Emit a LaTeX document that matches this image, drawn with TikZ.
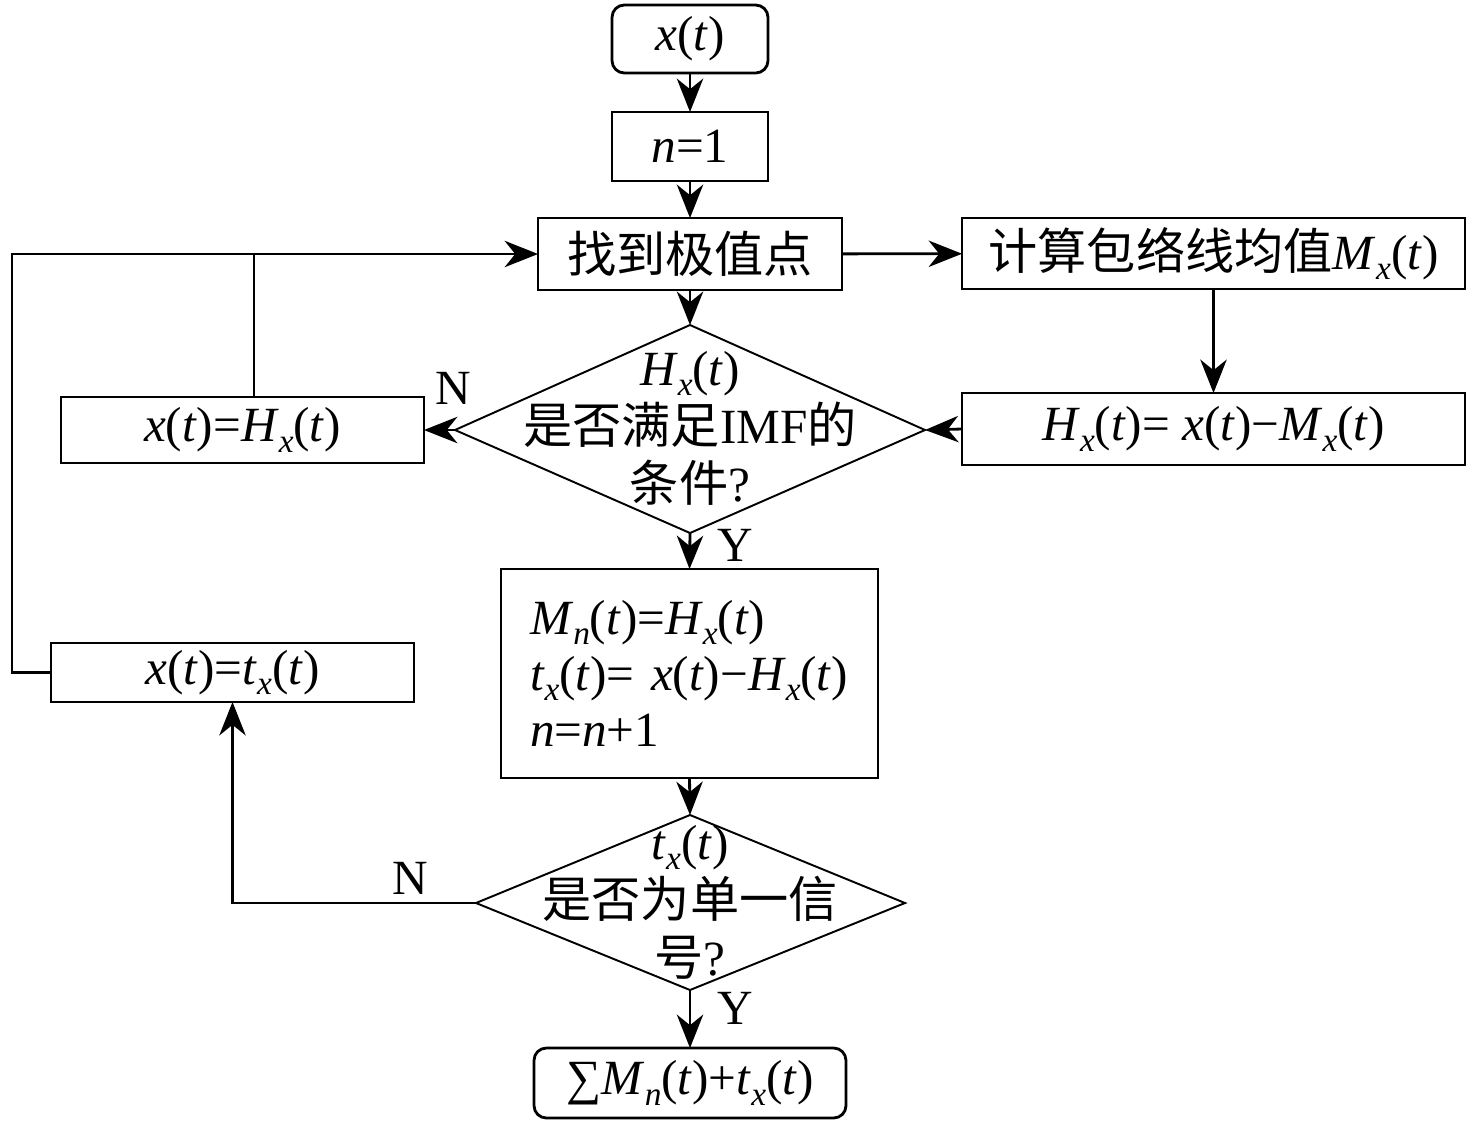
\documentclass[tikz,border=0pt]{standalone}
\usepackage{fontspec}
\setmainfont{Liberation Serif}
\newfontfamily\cjk{Noto Sans CJK SC}
\usetikzlibrary{arrows.meta}
\newcommand\vv[1]{\textit{#1}}
\newcommand\sbx[1]{\raisebox{-0.45ex}{\fontsize{19}{19}\selectfont\textit{#1}}}
\begin{document}
\begin{tikzpicture}[x=0.02cm,y=-0.02cm,
  font=\fontsize{28}{32}\selectfont,
  box/.style={draw, line width=1.6pt, inner sep=0pt, outer sep=0pt},
  rbox/.style={box, rounded corners=7pt},
  arr/.style={line width=1.6pt, -{Stealth[length=19pt,width=15pt,inset=6pt]}},
  ln/.style={line width=1.6pt},
  dia/.style={line width=1.1pt},
  lbl/.style={inner sep=0pt}]
\useasboundingbox (0,0) rectangle (1476,1126);

% nodes
\node[rbox, minimum width=3.12cm, minimum height=1.36cm] (start) at (690,39) {\vv{x}(\vv{t})};
\node[box, minimum width=3.12cm, minimum height=1.38cm] (n1) at (690,146.5) {\vv{n}=1};
\node[box, minimum width=6.08cm, minimum height=1.44cm] (find) at (690,254) {\cjk 找到极值点};
\node[box, minimum width=10.06cm, minimum height=1.42cm] (calc) at (1213.5,253.5) {{\cjk 计算包络线均值}\vv{M}\sbx{x}(\vv{t})};
\node[box, minimum width=10.06cm, minimum height=1.44cm] (hx) at (1213.5,429) {\vv{H}\sbx{x}(\vv{t})= \vv{x}(\vv{t})−\vv{M}\sbx{x}(\vv{t})};
\node[box, minimum width=7.26cm, minimum height=1.32cm] (xh) at (242.5,430) {\vv{x}(\vv{t})=\vv{H}\sbx{x}(\vv{t})};
\node[box, minimum width=7.54cm, minimum height=4.18cm, inner xsep=0.58cm, text width=6.38cm, align=left] (big) at (689.5,673.5)
  {\vv{M}\sbx{n}(\vv{t})=\vv{H}\sbx{x}(\vv{t})\\ \vv{t}\sbx{x}(\vv{t})= \vv{x}(\vv{t})−\vv{H}\sbx{x}(\vv{t})\\ \vv{n}=\vv{n}+1};
\node[box, minimum width=7.26cm, minimum height=1.18cm] (xt) at (232.5,672.5) {\vv{x}(\vv{t})=\vv{t}\sbx{x}(\vv{t})};
\node[rbox, minimum width=6.24cm, minimum height=1.40cm] (final) at (690,1083) {∑\vv{M}\sbx{n}(\vv{t})+\vv{t}\sbx{x}(\vv{t})};

% diamond 1
\coordinate (d1t) at (690,325);
\coordinate (d1b) at (690,533);
\coordinate (d1l) at (455,430);
\coordinate (d1r) at (925,430);
\draw[dia] (d1t) -- (d1r) -- (d1b) -- (d1l) -- cycle;
\node[align=center, inner sep=0pt, font=\fontsize{28}{33}\selectfont] (d1txt) at (690,428)
  {\vv{H}\sbx{x}(\vv{t})\\ {\cjk 是否满足}IMF{\cjk 的}\\ {\cjk 条件}?};

% diamond 2
\coordinate (d2t) at (690,815);
\coordinate (d2b) at (690,990);
\coordinate (d2l) at (476,903);
\coordinate (d2r) at (905,903);
\draw[dia] (d2t) -- (d2r) -- (d2b) -- (d2l) -- cycle;
\node[align=center, inner sep=0pt, font=\fontsize{28}{33}\selectfont] (d2txt) at (690,902)
  {\vv{t}\sbx{x}(\vv{t})\\ {\cjk 是否为单一信}\\ {\cjk 号}?};

\coordinate (lp) at (12,0);
\coordinate (xhtop) at (254,397);

% connectors
\draw[arr] (start) -- (n1);
\draw[arr] (n1) -- (find);
\draw[arr] (find) -- (calc);
\draw[arr] (calc) -- (hx);
\draw[arr] (hx.west) -- (d1r);
\draw[arr] (find) -- (d1t);
\draw[arr] (d1l) -- (xh.east);
\draw[ln] (xhtop) -- (xhtop |- find.west);
\draw[arr] (xt.west) -- (xt.west -| lp) |- (find.west);
\draw[arr] (d1b) -- (big.north);
\draw[arr] (big.south) -- (d2t);
\draw[arr] (d2l) -| (xt.south);
\draw[arr] (d2b) -- (final.north);

% labels
\node[lbl] (n1lbl) at (453,388) {N};
\node[lbl] (y1lbl) at (735,545) {Y};
\node[lbl] (n2lbl) at (410,878) {N};
\node[lbl] (y2lbl) at (735,1008) {Y};
\end{tikzpicture}
\end{document}
